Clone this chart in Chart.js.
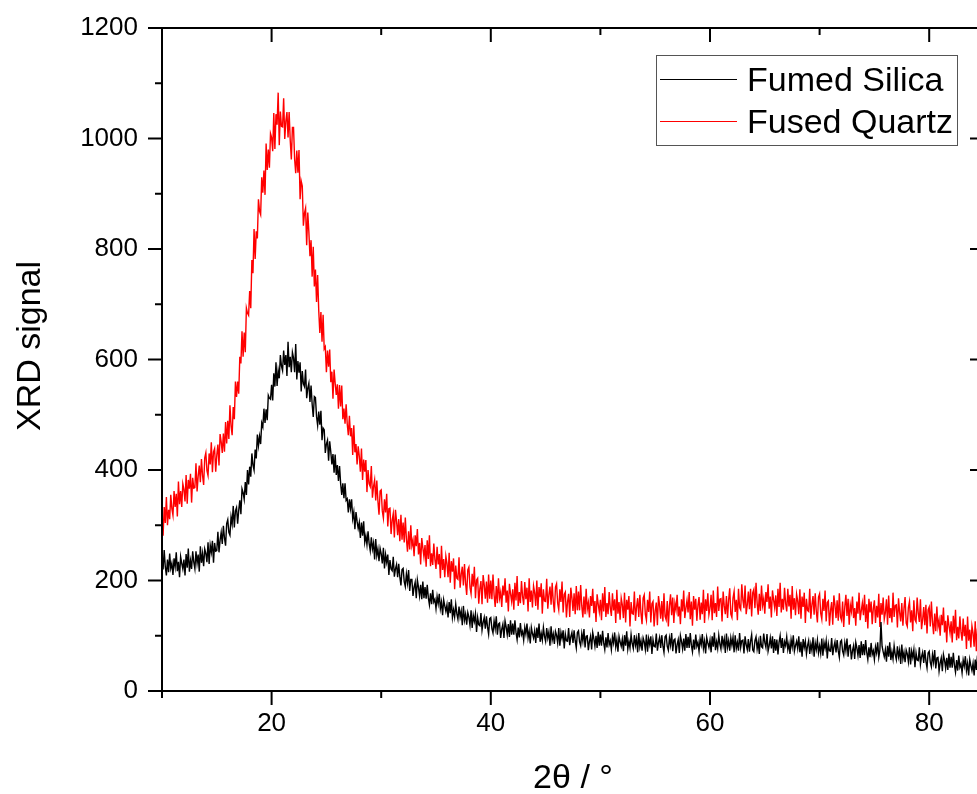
<!DOCTYPE html>
<html>
<head>
<meta charset="utf-8">
<title>XRD</title>
<script src="https://cdn.jsdelivr.net/npm/chart.js@4.4.1/dist/chart.umd.min.js"></script>
<style>
  html, body { margin: 0; padding: 0; background: #fff; overflow: hidden; }
  #clip { width: 977px; height: 794px; overflow: hidden; position: relative; }
  #wrap { width: 1000px; height: 794px; position: absolute; left: 0; top: 0; }
</style>
</head>
<body>
<div id="clip"><div id="wrap"><canvas id="xrd"></canvas></div></div>
<script>
// 2theta sampling of the scan (degrees)
const thetaStart = 10;
const thetaStep = 0.1;

const seriesNames = ["Fumed Silica", "Fused Quartz"];
const seriesColors = ["#000000", "#ff0000"];

// one row per degree (10.0 ... 10.9, 11.0 ...), last value at 85
const fumedSilica = [
  246, 220, 255, 225, 209, 238, 215, 249, 222, 231,
  210, 240, 225, 251, 217, 234, 206, 243, 231, 221,
  238, 209, 248, 223, 258, 216, 236, 221, 253, 233,
  221, 253, 231, 247, 216, 262, 232, 249, 226, 257,
  249, 233, 269, 230, 264, 251, 272, 232, 268, 253,
  254, 288, 251, 273, 287, 266, 299, 277, 263, 303,
  310, 287, 282, 315, 302, 335, 296, 326, 332, 303,
  327, 345, 320, 366, 359, 347, 378, 355, 400, 374,
  406, 388, 430, 409, 400, 437, 421, 464, 444, 461,
  447, 485, 478, 511, 485, 510, 490, 535, 530, 528,
  554, 526, 575, 551, 595, 552, 580, 566, 608, 588,
  580, 616, 590, 608, 570, 632, 586, 605, 577, 613,
  603, 577, 628, 564, 597, 576, 595, 542, 579, 556,
  551, 582, 530, 548, 557, 523, 553, 519, 496, 533,
  531, 497, 481, 506, 482, 507, 454, 476, 473, 431,
  447, 454, 417, 452, 433, 410, 429, 395, 428, 391,
  409, 380, 407, 375, 355, 376, 349, 376, 345, 348,
  323, 347, 330, 347, 312, 324, 293, 324, 307, 294,
  305, 277, 305, 281, 307, 269, 281, 265, 289, 267,
  254, 278, 257, 268, 238, 275, 245, 257, 235, 258,
  248, 231, 259, 222, 247, 233, 247, 210, 237, 221,
  218, 243, 207, 221, 229, 206, 230, 207, 191, 220,
  222, 198, 189, 212, 196, 219, 181, 202, 202, 172,
  188, 197, 168, 201, 188, 172, 192, 166, 198, 168,
  188, 167, 192, 169, 156, 177, 157, 183, 161, 166,
  149, 171, 158, 176, 149, 161, 137, 165, 154, 144,
  156, 133, 161, 141, 166, 133, 147, 134, 157, 140,
  130, 153, 134, 145, 119, 154, 128, 139, 120, 142,
  134, 119, 146, 114, 137, 126, 140, 107, 133, 120,
  118, 141, 110, 124, 133, 113, 135, 116, 103, 131,
  133, 113, 105, 127, 113, 135, 102, 121, 123, 96,
  112, 121, 96, 127, 116, 102, 121, 98, 128, 102,
  122, 102, 128, 106, 93, 115, 97, 123, 102, 108,
  92, 115, 103, 122, 96, 108, 86, 115, 104, 96,
  109, 87, 115, 96, 122, 89, 104, 92, 115, 99,
  90, 114, 96, 107, 82, 117, 92, 103, 85, 108,
  101, 87, 114, 82, 106, 95, 110, 77, 103, 91,
  90, 114, 83, 98, 106, 87, 110, 91, 78, 106,
  109, 89, 82, 104, 90, 112, 79, 99, 100, 74,
  90, 99, 75, 106, 95, 81, 100, 78, 107, 82,
  102, 82, 109, 87, 75, 97, 79, 105, 84, 91,
  75, 98, 87, 106, 80, 93, 71, 99, 89, 81,
  94, 72, 101, 82, 108, 76, 90, 78, 102, 86,
  77, 101, 83, 95, 70, 105, 80, 91, 73, 96,
  89, 75, 102, 71, 95, 84, 99, 67, 93, 81,
  80, 104, 73, 88, 97, 78, 101, 82, 70, 98,
  101, 81, 74, 96, 83, 105, 72, 92, 94, 68,
  84, 93, 69, 100, 90, 76, 95, 73, 103, 78,
  98, 78, 105, 83, 71, 93, 75, 102, 81, 88,
  72, 95, 84, 103, 77, 90, 68, 97, 87, 79,
  92, 70, 99, 80, 106, 74, 89, 77, 101, 85,
  76, 100, 82, 94, 69, 104, 79, 91, 73, 96,
  83, 97, 70, 101, 77, 88, 73, 105, 79, 91,
  92, 68, 99, 84, 75, 94, 71, 90, 102, 74,
  71, 91, 98, 76, 89, 67, 100, 80, 78, 104,
  88, 79, 103, 72, 82, 96, 77, 99, 69, 94,
  73, 93, 66, 88, 100, 78, 96, 69, 89, 82,
  98, 75, 86, 67, 93, 80, 101, 72, 82, 90,
  77, 99, 70, 89, 62, 94, 79, 90, 67, 82,
  91, 67, 85, 73, 97, 62, 87, 75, 92, 69,
  82, 68, 95, 64, 88, 77, 91, 59, 85, 73,
  72, 96, 65, 80, 89, 70, 92, 73, 61, 89,
  92, 72, 65, 87, 73, 95, 62, 82, 83, 57,
  73, 82, 58, 88, 78, 64, 83, 60, 90, 65,
  85, 65, 92, 70, 57, 79, 61, 87, 66, 73,
  57, 80, 69, 88, 61, 74, 125, 81, 71, 62,
  75, 53, 82, 62, 88, 56, 71, 58, 82, 66,
  57, 81, 62, 74, 49, 84, 58, 70, 52, 74,
  67, 53, 79, 48, 72, 61, 75, 43, 69, 56,
  55, 79, 48, 62, 70, 51, 74, 54, 42, 69,
  72, 52, 44, 66, 52, 74, 41, 60, 61, 36,
  51, 60, 36, 66, 56, 41, 60, 38, 68, 42,
  62, 42, 69, 47, 34, 56, 37, 64, 43, 49,
  33, 56, 45, 63, 37, 50, 28, 57, 46, 37,
  50, 28, 57, 38, 64, 31, 46, 34, 57, 41,
  42
];

const fusedQuartz = [
  315, 281, 333, 304, 351, 300, 328, 311, 355, 330,
  318, 362, 333, 357, 316, 379, 338, 362, 333, 375,
  365, 343, 391, 339, 382, 366, 393, 341, 386, 367,
  368, 412, 361, 389, 408, 378, 420, 390, 373, 422,
  431, 399, 390, 430, 410, 450, 396, 433, 439, 397,
  427, 446, 408, 465, 451, 431, 466, 433, 487, 448,
  489, 456, 517, 480, 463, 514, 492, 560, 532, 560,
  538, 605, 593, 651, 605, 649, 613, 693, 684, 680,
  724, 693, 780, 756, 836, 782, 832, 819, 890, 868,
  862, 930, 902, 942, 898, 991, 943, 980, 947, 1009,
  1002, 977, 1046, 981, 1044, 1025, 1083, 988, 1049, 1022,
  1021, 1073, 999, 1031, 1048, 1002, 1048, 997, 962, 1020,
  1020, 963, 937, 978, 938, 979, 890, 923, 914, 842,
  865, 874, 807, 866, 831, 787, 816, 750, 804, 732,
  763, 704, 753, 689, 648, 686, 632, 681, 619, 623,
  577, 616, 587, 618, 559, 578, 529, 582, 557, 536,
  555, 511, 554, 515, 553, 492, 511, 484, 519, 484,
  463, 498, 461, 476, 427, 481, 432, 447, 410, 443,
  425, 397, 439, 382, 419, 397, 418, 360, 400, 375,
  370, 407, 350, 370, 382, 345, 381, 344, 319, 362,
  364, 326, 313, 347, 323, 357, 298, 330, 331, 284,
  309, 321, 278, 328, 308, 282, 311, 271, 319, 274,
  305, 269, 314, 275, 252, 289, 256, 300, 263, 273,
  244, 282, 262, 293, 247, 268, 229, 277, 259, 243,
  264, 225, 273, 239, 282, 226, 249, 228, 267, 238,
  221, 261, 229, 248, 204, 263, 219, 239, 206, 244,
  231, 206, 250, 196, 235, 216, 240, 184, 227, 204,
  202, 242, 187, 211, 225, 191, 230, 195, 174, 219,
  224, 188, 176, 212, 189, 225, 168, 201, 204, 158,
  185, 199, 157, 210, 192, 167, 198, 160, 211, 167,
  200, 166, 211, 174, 152, 190, 159, 204, 168, 179,
  152, 191, 173, 204, 160, 182, 144, 194, 176, 162,
  184, 147, 196, 164, 208, 154, 179, 159, 199, 171,
  156, 197, 166, 187, 144, 204, 161, 182, 151, 190,
  178, 154, 200, 147, 188, 170, 195, 140, 184, 163,
  162, 203, 149, 174, 189, 156, 196, 162, 142, 188,
  194, 159, 147, 184, 161, 198, 142, 175, 179, 133,
  161, 176, 134, 187, 169, 145, 177, 139, 190, 146,
  180, 146, 192, 154, 133, 171, 139, 185, 148, 160,
  133, 172, 154, 185, 141, 163, 125, 175, 157, 143,
  165, 128, 177, 144, 188, 134, 159, 139, 179, 151,
  136, 177, 146, 166, 123, 183, 140, 161, 129, 168,
  156, 132, 178, 124, 165, 147, 172, 117, 161, 140,
  139, 180, 127, 152, 168, 134, 174, 141, 121, 168,
  174, 139, 128, 165, 143, 180, 124, 158, 162, 117,
  145, 160, 119, 172, 155, 131, 163, 126, 177, 135,
  129, 163, 117, 154, 175, 137, 169, 123, 159, 147,
  174, 135, 153, 121, 166, 144, 182, 132, 150, 164,
  142, 179, 130, 162, 118, 172, 147, 167, 127, 155,
  170, 129, 160, 139, 183, 123, 166, 145, 177, 138,
  150, 174, 128, 182, 141, 159, 134, 189, 145, 166,
  167, 126, 180, 154, 139, 172, 132, 165, 186, 139,
  133, 168, 180, 143, 165, 128, 185, 151, 147, 193,
  165, 150, 191, 139, 156, 180, 148, 185, 135, 178,
  184, 150, 196, 159, 138, 176, 145, 191, 155, 167,
  140, 179, 161, 193, 149, 171, 133, 182, 165, 151,
  173, 136, 185, 152, 196, 142, 167, 147, 187, 159,
  144, 185, 153, 174, 131, 190, 147, 168, 137, 175,
  163, 139, 184, 131, 171, 152, 178, 123, 167, 146,
  144, 185, 131, 156, 172, 138, 177, 144, 124, 170,
  176, 141, 130, 167, 145, 182, 126, 160, 163, 118,
  146, 161, 120, 173, 156, 132, 164, 127, 177, 134,
  128, 162, 116, 153, 174, 136, 167, 120, 156, 144,
  171, 132, 150, 118, 162, 140, 178, 128, 145, 159,
  137, 174, 125, 157, 113, 167, 142, 162, 121, 149,
  164, 123, 154, 133, 176, 116, 159, 138, 169, 130,
  142, 166, 120, 173, 132, 150, 124, 178, 134, 155,
  156, 115, 168, 142, 126, 159, 118, 150, 170, 123,
  117, 151, 162, 124, 146, 108, 164, 129, 125, 169,
  141, 125, 166, 112, 129, 152, 119, 156, 104, 147,
  152, 117, 162, 125, 103, 140, 108, 153, 116, 128,
  100, 138, 119, 151, 106, 127, 88, 137, 119, 105,
  126, 88, 136, 104, 147, 92, 116, 95, 135, 107,
  91, 131, 99, 120, 76, 135, 91, 111, 79, 118,
  105, 80, 126, 72, 113, 94, 118, 64, 107, 86,
  94
];

const xMajorTicks = [20, 40, 60, 80];
const xMinorTicks = [10, 30, 50, 70];
const yMajorTicks = [0, 200, 400, 600, 800, 1000, 1200];
const yMinorTicks = [100, 300, 500, 700, 900, 1100];

const xTitle = "2θ / °";
const yTitle = "XRD signal";

const FONT = "'Liberation Sans', Arial, sans-serif";

function toPoints(values) {
  return values.map((v, i) => ({ x: thetaStart + i * thetaStep, y: v }));
}

// frame, in/out ticks, titles and boxed legend in the Origin style
const framePlugin = {
  id: "frame",
  afterDraw(chart) {
    const { ctx, chartArea, scales } = chart;
    const { left, right, top, bottom } = chartArea;
    const major = 14;
    const minor = 7;
    ctx.save();
    ctx.strokeStyle = "#000";
    ctx.lineWidth = 2;
    ctx.strokeRect(left, top, right - left, bottom - top);

    ctx.beginPath();
    const xTick = (v, len) => {
      const px = scales.x.getPixelForValue(v);
      ctx.moveTo(px, bottom);
      ctx.lineTo(px, bottom + len);
      ctx.moveTo(px, top);
      ctx.lineTo(px, top + len);
    };
    const yTick = (v, len) => {
      const py = scales.y.getPixelForValue(v);
      ctx.moveTo(left - len, py);
      ctx.lineTo(left, py);
      ctx.moveTo(right - len, py);
      ctx.lineTo(right, py);
    };
    xMajorTicks.forEach((v) => xTick(v, major));
    xMinorTicks.forEach((v) => xTick(v, minor));
    yMajorTicks.forEach((v) => yTick(v, major));
    yMinorTicks.forEach((v) => yTick(v, minor));
    ctx.stroke();

    ctx.fillStyle = "#000";
    ctx.font = `34px ${FONT}`;
    ctx.textAlign = "center";
    ctx.textBaseline = "alphabetic";
    ctx.fillText(xTitle, (left + right) / 2, 788);

    ctx.save();
    ctx.translate(40, 346);
    ctx.rotate(-Math.PI / 2);
    ctx.fillText(yTitle, 0, 0);
    ctx.restore();

    // legend box
    ctx.lineWidth = 1;
    ctx.strokeStyle = "#555";
    ctx.strokeRect(656.5, 55.5, 301, 90);
    ctx.textAlign = "left";
    chart.data.datasets.forEach((ds, i) => {
      const ly = 79 + i * 42;
      ctx.strokeStyle = ds.borderColor;
      ctx.beginPath();
      ctx.moveTo(660, ly + 0.5);
      ctx.lineTo(737, ly + 0.5);
      ctx.stroke();
      ctx.fillStyle = "#000";
      ctx.fillText(ds.label, 747, ly + 12);
    });
    ctx.restore();
  },
};

const tickFont = { family: FONT, size: 26 };

new Chart(document.getElementById("xrd").getContext("2d"), {
  type: "line",
  data: {
    datasets: [
      {
        label: seriesNames[0],
        data: toPoints(fumedSilica),
        borderColor: seriesColors[0],
        borderWidth: 1.4,
        pointRadius: 0,
        tension: 0,
      },
      {
        label: seriesNames[1],
        data: toPoints(fusedQuartz),
        borderColor: seriesColors[1],
        borderWidth: 1.4,
        pointRadius: 0,
        tension: 0,
      },
    ],
  },
  options: {
    responsive: true,
    maintainAspectRatio: false,
    animation: false,
    layout: { padding: { top: 28, right: 16, left: 0, bottom: 0 } },
    plugins: {
      legend: { display: false },
      tooltip: { enabled: false },
    },
    scales: {
      x: {
        type: "linear",
        min: 10,
        max: 85,
        grid: { drawOnChartArea: false, drawTicks: false, color: "transparent" },
        border: { display: false },
        ticks: { font: tickFont, color: "#000", padding: 17, maxRotation: 0, callback: (v) => String(v) },
        afterBuildTicks(scale) {
          scale.ticks = xMajorTicks.map((v) => ({ value: v }));
        },
        afterFit(scale) {
          scale.height = 103;
          scale.paddingLeft = 0;
          scale.paddingRight = 0;
        },
      },
      y: {
        min: 0,
        max: 1200,
        grid: { drawOnChartArea: false, drawTicks: false, color: "transparent" },
        border: { display: false },
        ticks: { font: tickFont, color: "#000", padding: 24, callback: (v) => String(v) },
        afterBuildTicks(scale) {
          scale.ticks = yMajorTicks.map((v) => ({ value: v }));
        },
        afterFit(scale) {
          scale.width = 162;
          scale.paddingTop = 0;
          scale.paddingBottom = 0;
        },
      },
    },
  },
  plugins: [framePlugin],
});
</script>
</body>
</html>
